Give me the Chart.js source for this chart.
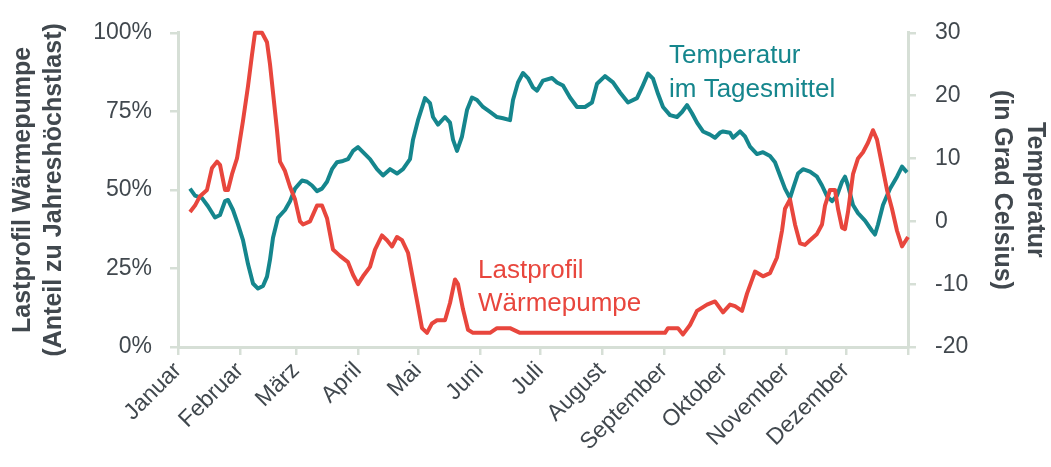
<!DOCTYPE html>
<html>
<head>
<meta charset="utf-8">
<script src="https://cdn.jsdelivr.net/npm/chart.js@4"></script>
<style>
  html, body { margin: 0; padding: 0; background: #fff; }
  #wrap { width: 1051px; height: 467px; }
</style>
</head>
<body>
<div id="wrap"><canvas id="chart"></canvas></div>
<script>
// ===== DATA =====
const monthNames = ['Januar', 'Februar', 'März', 'April', 'Mai', 'Juni', 'Juli', 'August', 'September', 'Oktober', 'November', 'Dezember'];
const monthStarts = [0, 31, 59, 90, 120, 151, 181, 212, 243, 273, 304, 334, 365];

const loadTicks = [0, 25, 50, 75, 100];
const tempTicks = [-20, -10, 0, 10, 20, 30];

// Lastprofil Wärmepumpe (% of annual peak), by day of year
const loadDays = [6, 8.5, 11, 14.5, 17, 19.5, 21, 23.5, 25, 27, 29.5, 31, 32.5, 35, 37, 38.5, 42, 44.5, 46, 47.5,
    49.5, 51, 53.5, 56, 58.5, 61, 62.5, 66, 69.5, 72, 74.5, 77.5, 81, 85, 87.5, 90, 92.5, 96, 98.5, 102,
    104.5, 107, 109.5, 112, 115, 117.5, 120, 122, 124.5, 127, 129.5, 133.5, 136, 138.5, 140, 142.5, 145, 147.5, 156, 159.5,
    166, 171, 243.5, 245, 250, 252.5, 256, 259.5, 264.5, 268.5, 272.5, 276, 278.5, 282, 284.5, 288.5, 292.5, 296, 299.5, 302,
    303.5, 306, 308.5, 311, 313.5, 316, 319.5, 322, 323.5, 326, 328.5, 330, 332, 333.5, 335, 337.5, 340, 342.5, 345, 347.5,
    349.5, 352, 354.5, 357, 359.5, 362, 365];
const loadValues = [43, 45, 48, 50, 57, 59, 58, 50, 50, 55, 60, 66, 72, 83, 93, 100, 100, 97, 90, 81,
    69, 59, 56, 51, 47, 40, 39, 40, 45, 45, 41, 31, 29, 27, 23, 20, 22.5, 25.5, 31, 35.5,
    34, 32, 35, 34, 30, 21.5, 13, 6, 4.5, 7.5, 8.5, 8.5, 14, 21.5, 20, 12, 5.5, 4.5, 4.5, 6,
    6, 4.5, 4.5, 6, 6, 4, 7, 11.5, 13.5, 14.5, 11, 13.5, 13, 11.5, 17, 24, 22.5, 23.5, 28.5, 37,
    44, 47, 39, 33, 32.5, 34, 36, 39, 45, 50, 50, 44, 38, 37.5, 43, 55, 60, 62, 65, 69,
    66, 58, 50, 44, 37, 32, 35];

// Temperatur im Tagesmittel (°C), by day of year
const tempDays = [6, 8.5, 12, 15, 18.5, 21, 23.5, 25, 27.5, 30, 32.5, 35, 37.5, 40, 42.5, 44.5, 46, 47.5, 50, 53.5,
    56, 58.5, 62, 64.5, 67, 69.5, 72, 74.5, 77, 79.5, 82.5, 85, 87.5, 90, 92.5, 96, 99.5, 102.5, 106, 109.5,
    112.5, 116, 117.5, 120, 123.5, 126, 127.5, 130, 133.5, 136, 137.5, 139.5, 142, 144.5, 147, 149.5, 152.5, 156, 159.5, 162.5,
    166, 167.5, 170, 172.5, 175, 177.5, 179.5, 182.5, 187, 189.5, 192.5, 196, 199.5, 203.5, 207, 209.5, 213.5, 217.5, 221, 225,
    229.5, 232, 235, 237.5, 240, 242.5, 246, 249.5, 252, 254.5, 257, 259.5, 262.5, 266, 268.5, 271, 272.5, 276, 277.5, 281,
    283.5, 286, 289.5, 292.5, 296, 298.5, 301, 303.5, 306, 307.5, 310, 312.5, 316, 319.5, 322, 324.5, 327, 329.5, 332, 333.5,
    335, 337.5, 340, 343.5, 347, 348.5, 350, 352.5, 356, 359.5, 362, 364.5];
const tempValues = [5.2, 4.1, 3.7, 2.4, 0.6, 1.0, 3.2, 3.4, 1.8, -0.5, -3.0, -6.8, -9.9, -10.7, -10.3, -8.8, -6.1, -2.6, 0.6, 1.8,
    3.2, 5.2, 6.5, 6.3, 5.7, 4.8, 5.2, 6.3, 8.3, 9.4, 9.6, 9.9, 11.2, 11.8, 11.0, 9.9, 8.3, 7.3, 8.3, 7.6,
    8.3, 9.9, 13.0, 16.1, 19.6, 18.8, 16.6, 15.4, 16.6, 15.7, 13.0, 11.2, 13.5, 17.7, 19.7, 19.3, 18.2, 17.4, 16.6, 16.4,
    16.1, 19.3, 22.1, 23.6, 22.8, 21.3, 20.8, 22.4, 22.8, 22.1, 21.6, 19.7, 18.2, 18.2, 18.9, 21.9, 23.1, 22.1, 20.5, 18.9,
    19.6, 21.3, 23.5, 22.7, 20.3, 18.2, 16.9, 16.6, 17.4, 18.5, 17.2, 15.7, 14.3, 13.8, 13.3, 14.1, 14.3, 14.1, 13.3, 14.3,
    13.5, 11.9, 10.7, 11.0, 10.4, 9.4, 7.3, 5.2, 3.7, 5.2, 7.6, 8.3, 7.9, 7.1, 5.7, 4.0, 3.2, 4.1, 6.3, 7.1,
    5.7, 2.6, 1.3, 0.1, -1.5, -2.1, -0.5, 2.6, 5.2, 7.1, 8.7, 7.8];

// ===== STYLE =====
const RED = '#e8463d';
const TEAL = '#15868d';
const AXIS = '#d6dfd6';
const TEXT = '#41484e';
const FONT = '"Liberation Sans", Arial, sans-serif';

const toPoints = (xs, ys) => xs.map((x, i) => ({ x, y: ys[i] }));

// series labels written straight onto the plot
const seriesLabels = {
    id: 'seriesLabels',
    afterDatasetsDraw(chart) {
        const { ctx, scales } = chart;
        ctx.save();
        ctx.font = '26px ' + FONT;
        ctx.textAlign = 'left';
        ctx.textBaseline = 'alphabetic';

        ctx.fillStyle = TEAL;
        let x = scales.x.getPixelForValue(245.5);
        let y = scales.y1.getPixelForValue(25.2);
        ctx.fillText('Temperatur', x, y);
        ctx.fillText('im Tagesmittel', x, y + 34);

        ctx.fillStyle = RED;
        x = scales.x.getPixelForValue(150);
        y = scales.y.getPixelForValue(21.9);
        ctx.fillText('Lastprofil', x, y);
        ctx.fillText('Wärmepumpe', x, y + 33);
        ctx.restore();
    }
};

const axisGrid = { drawOnChartArea: false, drawTicks: true, tickLength: 8, color: AXIS, lineWidth: 2.5 };
const axisBorder = { display: true, color: AXIS, width: 3 };

new Chart(document.getElementById('chart').getContext('2d'), {
    type: 'line',
    data: {
        datasets: [
            {
                label: 'Lastprofil Wärmepumpe',
                data: toPoints(loadDays, loadValues),
                yAxisID: 'y',
                borderColor: RED,
                borderWidth: 4,
                borderJoinStyle: 'round',
                pointRadius: 0,
                tension: 0,
                fill: false,
                clip: false,
            },
            {
                label: 'Temperatur im Tagesmittel',
                data: toPoints(tempDays, tempValues),
                yAxisID: 'y1',
                borderColor: TEAL,
                borderWidth: 4,
                borderJoinStyle: 'round',
                pointRadius: 0,
                tension: 0,
                fill: false,
                clip: false,
            }
        ]
    },
    options: {
        responsive: true,
        maintainAspectRatio: false,
        animation: false,
        devicePixelRatio: 1,
        layout: { padding: { top: 26, left: 0, right: 0, bottom: 0 } },
        plugins: { legend: { display: false }, tooltip: { enabled: false } },
        scales: {
            x: {
                type: 'linear',
                position: 'bottom',
                min: 0,
                max: 365,
                afterBuildTicks: (scale) => { scale.ticks = monthStarts.map(v => ({ value: v })); },
                afterFit: (scale) => { scale.height = 120; },
                grid: axisGrid,
                border: axisBorder,
                ticks: {
                    autoSkip: false,
                    minRotation: 45,
                    maxRotation: 45,
                    padding: 2,
                    color: TEXT,
                    font: { family: FONT, size: 23 },
                    callback: (v, i) => monthNames[i] || '',
                }
            },
            y: {
                position: 'left',
                min: 0,
                max: 100,
                afterBuildTicks: (scale) => { scale.ticks = loadTicks.map(v => ({ value: v })); },
                afterFit: (scale) => { scale.width = 178; },
                grid: axisGrid,
                border: axisBorder,
                ticks: {
                    padding: 18,
                    color: TEXT,
                    font: { family: FONT, size: 23 },
                    callback: (v) => v + '%',
                },
                title: {
                    display: true,
                    text: ['Lastprofil Wärmepumpe', '(Anteil zu Jahreshöchstlast)'],
                    color: TEXT,
                    font: { family: FONT, size: 25, weight: 'bold', lineHeight: 1.24 },
                    padding: { top: 8, bottom: 0 },
                }
            },
            y1: {
                position: 'right',
                min: -20,
                max: 30,
                afterBuildTicks: (scale) => { scale.ticks = tempTicks.map(v => ({ value: v })); },
                afterFit: (scale) => { scale.width = 143; },
                grid: axisGrid,
                border: axisBorder,
                ticks: {
                    padding: 19,
                    color: TEXT,
                    font: { family: FONT, size: 23 },
                },
                title: {
                    display: true,
                    text: ['Temperatur', '(in Grad Celsius)'],
                    color: TEXT,
                    font: { family: FONT, size: 25, weight: 'bold', lineHeight: 1.3 },
                    padding: { top: 0, bottom: 0 },
                }
            }
        }
    },
    plugins: [seriesLabels]
});
</script>
</body>
</html>
